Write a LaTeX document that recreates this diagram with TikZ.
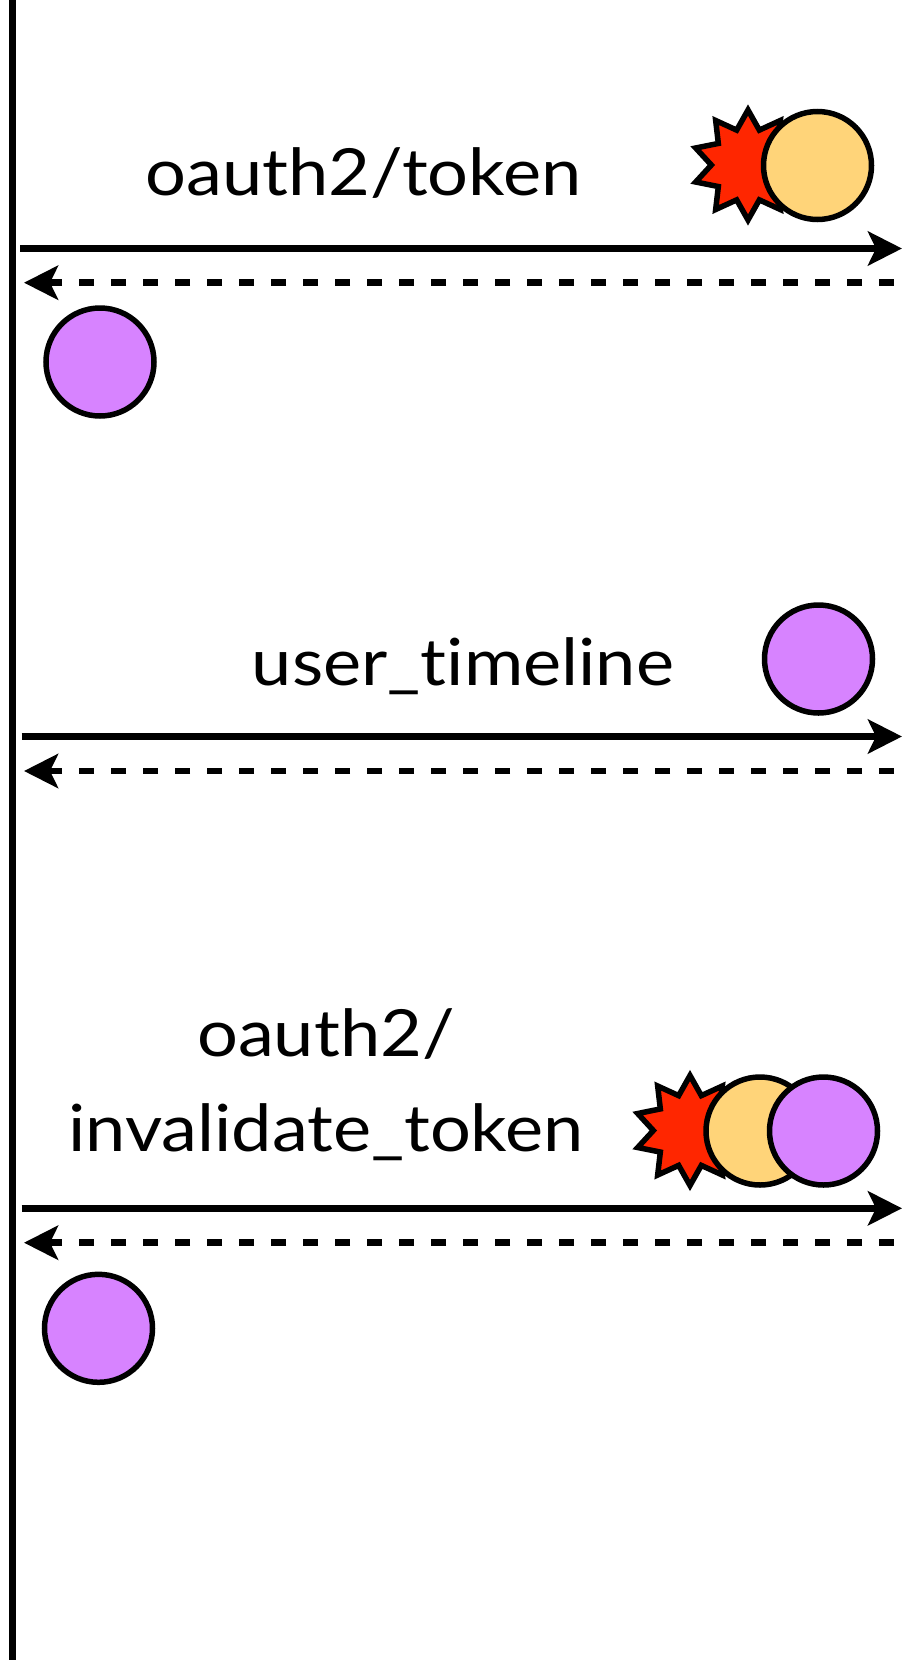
\documentclass[tikz,border=0pt]{standalone}
\usepackage{fontspec}
\setmainfont[Ligatures=NoCommon, FakeStretch=1.11]{Lato}
\usetikzlibrary{arrows.meta,shapes.geometric}
\definecolor{lavender}{HTML}{D783FF}
\definecolor{cantaloupe}{HTML}{FFD479}
\definecolor{maraschino}{HTML}{FF2600}

\begin{document}
\begin{tikzpicture}[x=1pt,y=-1pt,
  token/.style={circle, draw=black, line width=5.5pt, minimum size=108pt, inner sep=0pt},
  access/.style={token, fill=lavender},
  consumer/.style={token, fill=cantaloupe},
  secret/.style={star, star points=10, star point ratio=1.5, draw=black, fill=maraschino,
                 line width=5.5pt, minimum size=110pt, inner sep=0pt},
  req/.style={line width=6.5pt, -{Stealth[length=34pt,width=34pt,inset=8pt]}},
  resp/.style={req, dash pattern=on 15.5pt off 16.5pt},
  lbl/.style={anchor=base, inner sep=0pt, font=\fontsize{65}{78}\selectfont}
]
\fill[white] (0,0) rectangle (902,1660);
\useasboundingbox (0,0) rectangle (902,1660);

% client lifeline
\coordinate (top) at (12.5,0);
\coordinate (bottom) at (12.5,1660);
\draw[line width=7.5pt] (top) -- (bottom);

% --- oauth2/token ---
\node[lbl] (t1) at (363.5,195) {oauth2/token};
\node[secret] (s1) at (748,165) {};
\node[consumer] (c1) at (817.5,165.5) {};
\coordinate (a1) at (20,248.5);
\coordinate (b1) at (902,248.5);
\coordinate (a1r) at (894,282.7);
\coordinate (b1r) at (24,282.7);
\draw[req] (a1) -- (b1);
\draw[resp] (a1r) -- (b1r);
\node[access] (p1) at (100,362) {};

% --- user_timeline ---
\node[lbl] (t2) at (463,685) {user\_timeline};
\node[access] (p2) at (818.5,659) {};
\coordinate (a2) at (21.5,736.5);
\coordinate (b2) at (902,736.5);
\coordinate (a2r) at (894,771);
\coordinate (b2r) at (24,771);
\draw[req] (a2) -- (b2);
\draw[resp] (a2r) -- (b2r);

% --- oauth2/invalidate_token ---
\node[lbl] (t3a) at (326,1056.7) {oauth2/};
\node[lbl] (t3b) at (326,1151.7) {invalidate\_token};
\node[secret] (s3) at (690,1130.5) {};
\node[consumer] (c3) at (760,1131) {};
\node[access] (p3) at (823.5,1131) {};
\coordinate (a3) at (21.5,1208.3);
\coordinate (b3) at (902,1208.3);
\coordinate (a3r) at (894,1242.7);
\coordinate (b3r) at (24,1242.7);
\draw[req] (a3) -- (b3);
\draw[resp] (a3r) -- (b3r);
\node[access] (p4) at (98.5,1328.3) {};
\end{tikzpicture}
\end{document}
